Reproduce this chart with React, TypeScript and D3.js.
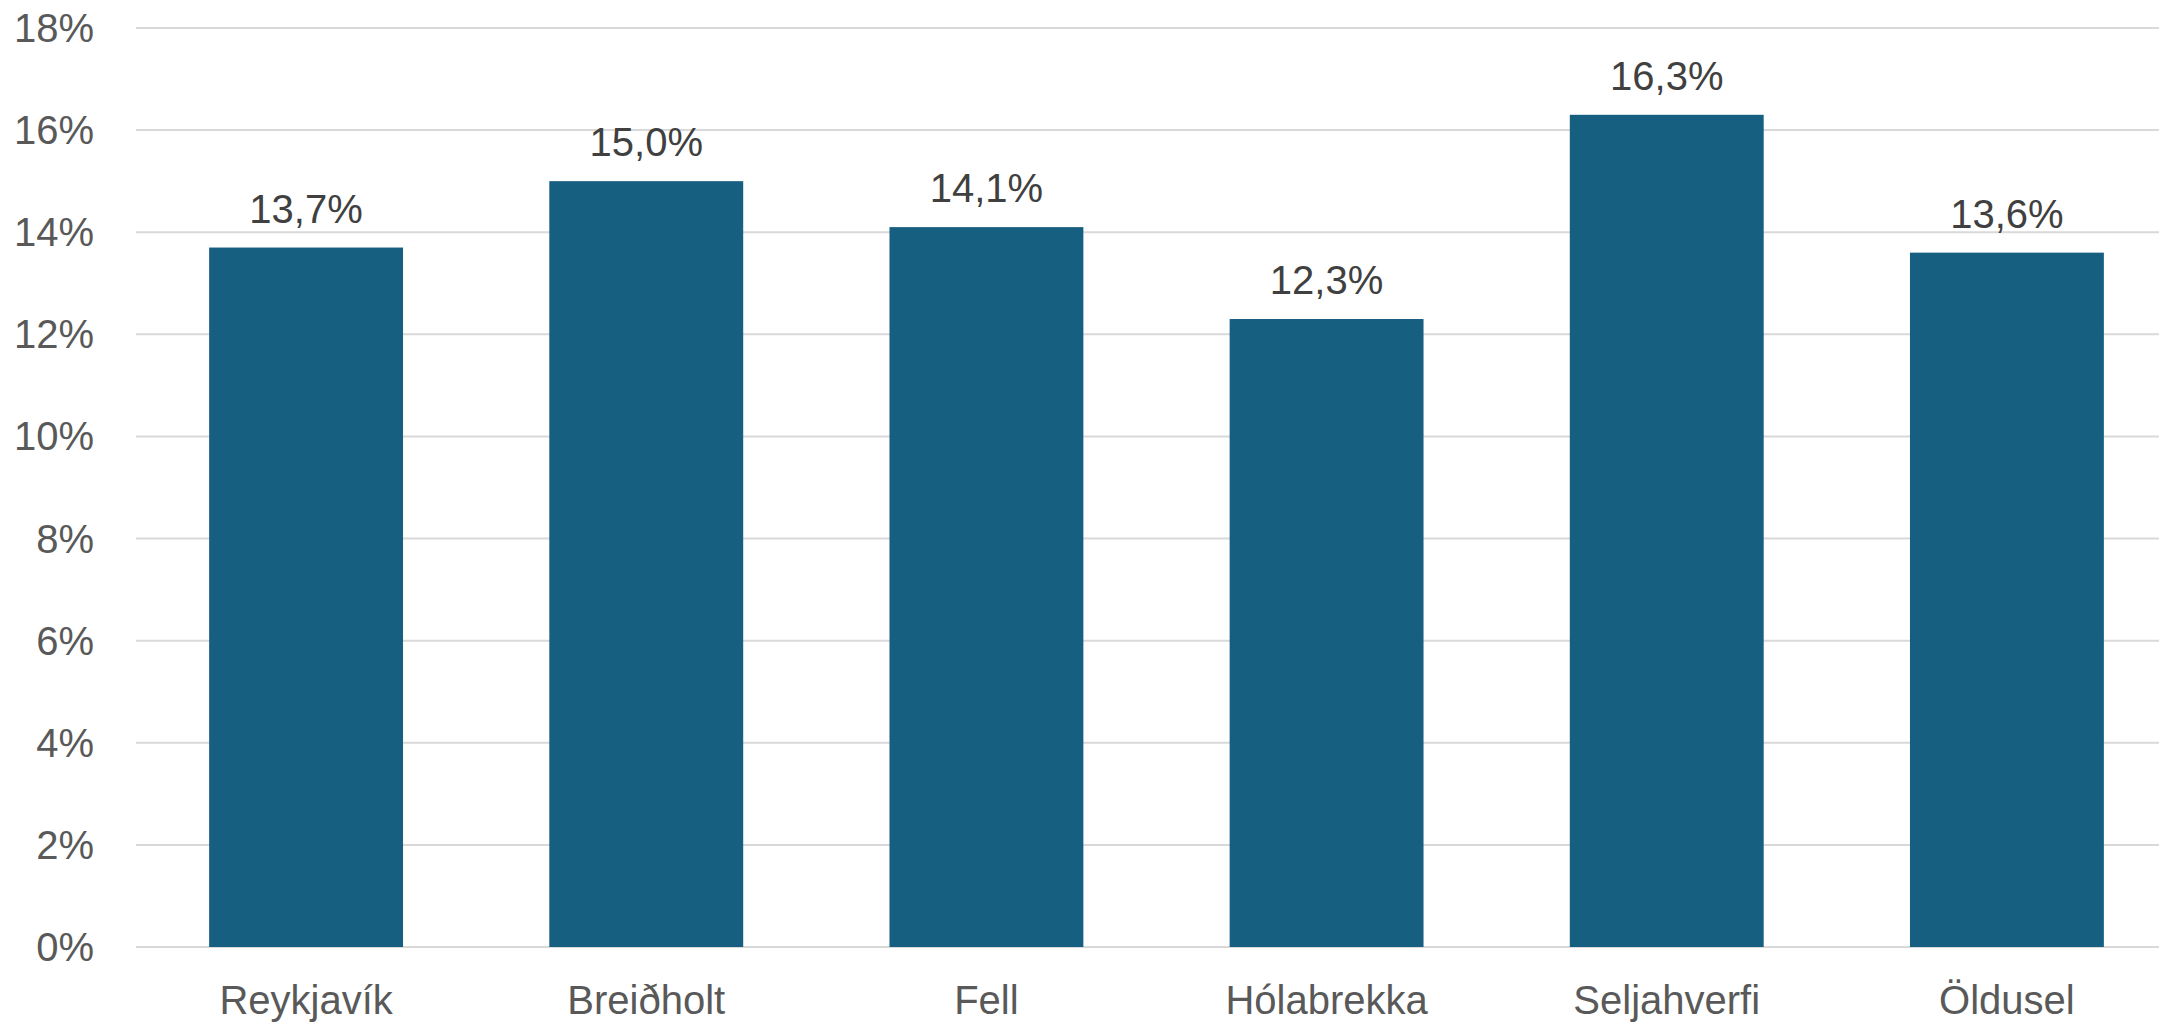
import React from "react";
import * as d3 from "d3";

const categories = ["Reykjavík", "Breiðholt", "Fell", "Hólabrekka", "Seljahverfi", "Öldusel"];
const values = [13.7, 15.0, 14.1, 12.3, 16.3, 13.6];
const yTicks = [0, 2, 4, 6, 8, 10, 12, 14, 16, 18];

const W = 2159;
const H = 1023;

export default function App() {
  const x = d3.scaleBand<string>().domain(categories).range([136, 2177]).paddingInner(0.43).paddingOuter(0.215);
  const y = d3.scaleLinear().domain([0, 18]).range([947, 28]);
  const font = "'Liberation Sans', Arial, sans-serif";
  const fmt = (v: number) => v.toFixed(1).replace(".", ",") + "%";
  return (
    <svg width={W} height={H} style={{ position: "absolute", left: 0, top: 0, background: "#fff" }}>
      {yTicks.map((t) => (
        <g key={t}>
          <line x1={136} x2={W} y1={y(t)} y2={y(t)} stroke="#d9d9d9" strokeWidth={2} />
          <text x={94} y={y(t)} dy="0.35em" textAnchor="end" fontFamily={font} fontSize={40} fill="#595959">
            {t}%
          </text>
        </g>
      ))}
      {categories.map((c, i) => (
        <g key={c}>
          <rect x={x(c)} y={y(values[i])} width={x.bandwidth()} height={y(0) - y(values[i])} fill="#175F81" />
          <text x={x(c)! + x.bandwidth() / 2} y={y(values[i]) - 25} textAnchor="middle" fontFamily={font} fontSize={40} fill="#404040">
            {fmt(values[i])}
          </text>
          <text x={x(c)! + x.bandwidth() / 2} y={1014} textAnchor="middle" fontFamily={font} fontSize={40} fill="#595959">
            {c}
          </text>
        </g>
      ))}
    </svg>
  );
}
